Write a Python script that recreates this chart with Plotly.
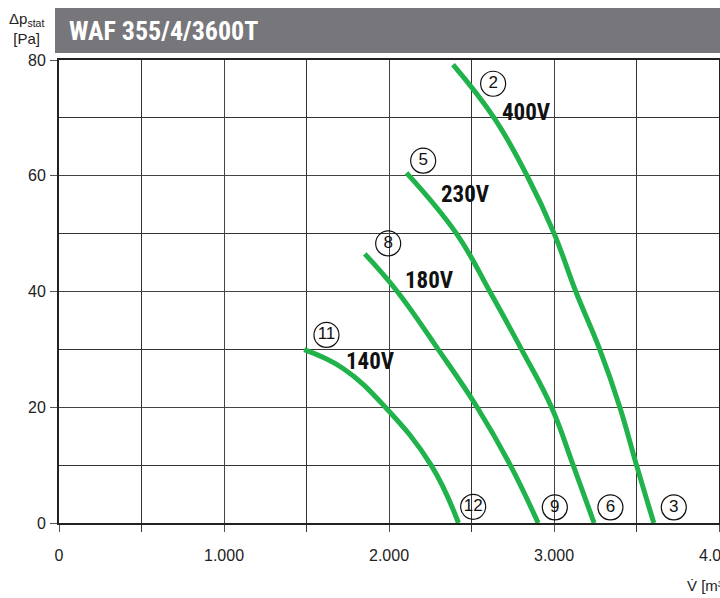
import plotly.graph_objects as go

# ---- data ----
x_400 = [2388, 2637, 2837, 3001, 3132, 3277, 3399, 3500, 3605]
y_400 = [79.2, 70, 60, 50, 40, 30, 20, 10, 0]

x_230 = [2106, 2409, 2611, 2803, 2985, 3116, 3243]
y_230 = [60.5, 50, 40, 30, 20, 10, 0]

x_180 = [1853, 2050, 2298, 2534, 2735, 2904]
y_180 = [46.5, 40, 30, 20, 10, 0]

x_140 = [1486, 1722, 1978, 2255, 2421]
y_140 = [29.95, 26.7, 20, 10, 0]

curve_labels = ["400V", "230V", "180V", "140V"]
label_x = [2835, 2465, 2247, 1890]
label_y = [70.9, 56.8, 41.9, 27.9]

point_ids = ["2", "5", "8", "11", "12", "9", "6", "3"]
point_x = [2631, 2207, 1995, 1621, 2510, 3005, 3342, 3726]
point_y = [75.9, 62.6, 48.3, 32.5, 2.8, 2.7, 2.7, 2.7]

x_ticks = [0, 1000, 2000, 3000, 4000]
x_tick_text = ["0", "1.000", "2.000", "3.000", "4.000"]
y_ticks = [0, 20, 40, 60, 80]

title_text = "WAF 355/4/3600T"

GREEN = "#20b24b"
COND = "Roboto Condensed, Liberation Sans Narrow, DejaVu Sans Condensed, Liberation Sans, sans-serif"
SANS = "Liberation Sans, Arial, Helvetica, sans-serif"

fig = go.Figure()
for xs, ys in [(x_400, y_400), (x_230, y_230), (x_180, y_180), (x_140, y_140)]:
    fig.add_trace(go.Scatter(x=xs, y=ys, mode="lines",
                             line=dict(color=GREEN, width=5, shape="spline", smoothing=1.2),
                             hoverinfo="skip", showlegend=False, cliponaxis=False))

fig.add_trace(go.Scatter(x=point_x, y=point_y, mode="markers+text", text=point_ids,
                         textposition="middle center",
                         textfont=dict(family=SANS, size=17, color="#111"),
                         marker=dict(symbol="circle-open", size=25, color="#111",
                                     line=dict(width=1.2, color="#111")),
                         showlegend=False, hoverinfo="skip", cliponaxis=False))

for t, lx, ly in zip(curve_labels, label_x, label_y):
    fig.add_annotation(x=lx, y=ly, text="<b>" + t + "</b>", showarrow=False,
                       font=dict(family=COND, size=23, color="#111"),
                       xanchor="center", yanchor="middle")

# title bar
fig.add_shape(type="rect", xref="paper", yref="paper",
              x0=(55 - 59) / 660, x1=(722 - 59) / 660,
              y0=(522.7 - 53) / 462.7, y1=(522.7 - 8) / 462.7,
              fillcolor="#77777b", line=dict(width=0), layer="below")
fig.add_annotation(xref="paper", yref="paper", x=(68 - 59) / 660, y=(522.7 - 31) / 462.7,
                   text="<b>" + title_text + "</b>", showarrow=False,
                   xanchor="left", yanchor="middle", borderpad=0,
                   font=dict(family=COND, size=26, color="white"))

# axis titles
fig.add_annotation(xref="paper", yref="paper", x=(26 - 59) / 660, y=(522.7 - 8) / 462.7,
                   text="Δp<sub>stat</sub><br>[Pa]", showarrow=False,
                   xanchor="center", yanchor="top", align="center",
                   font=dict(family=SANS, size=15, color="#222"))
fig.add_annotation(xref="paper", yref="paper", x=(685 - 59) / 660, y=(522.7 - 585) / 462.7,
                   text="V\u0307 [m³/h]", showarrow=False,
                   xanchor="left", yanchor="middle",
                   font=dict(family=SANS, size=15, color="#222"))

fig.update_xaxes(range=[0, 4000], tickvals=x_ticks, ticktext=x_tick_text,
                 ticks="outside", ticklen=7, tickcolor="#555", tickwidth=1,
                 showgrid=True, gridcolor="#444", gridwidth=1,
                 minor=dict(dtick=500, tick0=0, showgrid=True, gridcolor="#333", gridwidth=1,
                            ticks="outside", ticklen=7, tickcolor="#333"),
                 showline=True, linecolor="#222", linewidth=2, mirror=True,
                 zeroline=False, tickfont=dict(family=SANS, size=16, color="#222"),
                 ticklabelstandoff=10, ticklabeloverflow="allow", automargin=False)
fig.update_yaxes(range=[0, 80], tickvals=y_ticks,
                 ticks="outside", ticklen=7, tickcolor="#555", tickwidth=1,
                 showgrid=True, gridcolor="#444", gridwidth=1,
                 minor=dict(dtick=10, tick0=0, showgrid=True, gridcolor="#333", gridwidth=1),
                 showline=True, linecolor="#222", linewidth=2, mirror=True,
                 zeroline=False, tickfont=dict(family=SANS, size=16, color="#222"),
                 ticklabelstandoff=1, automargin=False)

fig.update_layout(width=720, height=598, margin=dict(l=59, r=1, t=60, b=75, autoexpand=False),
                  paper_bgcolor="white", plot_bgcolor="white", showlegend=False)

fig.write_html("out.html", config={"displayModeBar": False, "staticPlot": True},
               post_script="document.body.style.margin='0px';document.body.style.overflow='hidden';")
